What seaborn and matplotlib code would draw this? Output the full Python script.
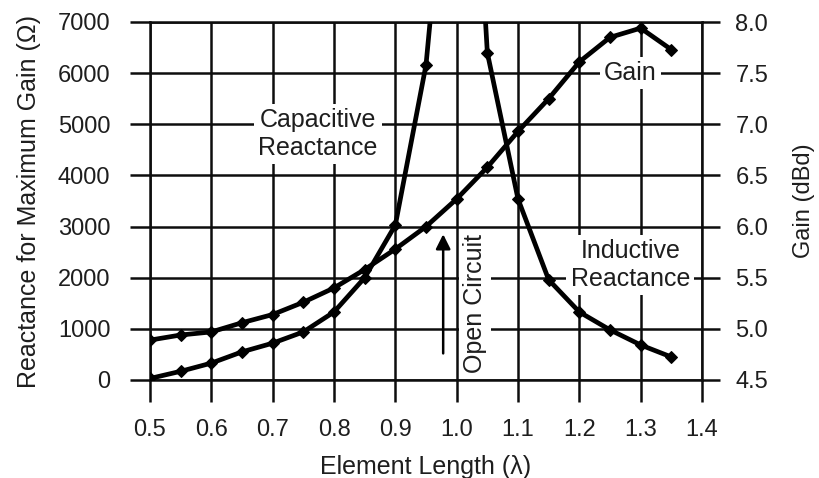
import numpy as np
import matplotlib
matplotlib.use("Agg")
import matplotlib.pyplot as plt
import seaborn as sns

# ---- data ----
gain_len = [0.50, 0.55, 0.60, 0.65, 0.70, 0.75, 0.80, 0.85, 0.90,
            0.95, 1.00, 1.05, 1.10, 1.15, 1.20, 1.25, 1.30, 1.35]
gain_dbd = [4.89, 4.94, 4.97, 5.06, 5.14, 5.26, 5.40, 5.58, 5.78,
            6.00, 6.27, 6.58, 6.93, 7.25, 7.61, 7.85, 7.94, 7.73]

cap_len = [0.50, 0.55, 0.60, 0.65, 0.70, 0.75, 0.80, 0.85, 0.90, 0.95, 0.97]
cap_ohm = [30, 170, 330, 550, 720, 940, 1330, 2000, 3030, 6160, 8700]

ind_len = [1.03, 1.05, 1.10, 1.15, 1.20, 1.25, 1.30, 1.35]
ind_ohm = [10500, 6400, 3540, 1960, 1330, 980, 685, 450]

x_ticks = [0.5, 0.6, 0.7, 0.8, 0.9, 1.0, 1.1, 1.2, 1.3, 1.4]
x_ticklabels = ["0.5", "0.6", "0.7", "0.8", "0.9", "1.0", "1.1", "1.2", "1.3", "1.4"]
y_ticks = [0, 1000, 2000, 3000, 4000, 5000, 6000, 7000]
g_ticks = [4.5, 5.0, 5.5, 6.0, 6.5, 7.0, 7.5, 8.0]
g_ticklabels = ["4.5", "5.0", "5.5", "6.0", "6.5", "7.0", "7.5", "8.0"]

sns.set_theme(style="white")
plt.rcParams["font.family"] = ["Liberation Sans", "DejaVu Sans"]

INK = "#0d0d0d"
TXT = "#1e1e1e"
FS = 17
FS_AN = 18
GLW = 1.8
fig = plt.figure(figsize=(8.19, 4.78), dpi=100)
ax = fig.add_axes([150 / 819, 98 / 478, 552 / 819, 358 / 478])

sns.lineplot(x=cap_len, y=cap_ohm, ax=ax, color="black", lw=3.4, marker="D",
             markersize=6.5, markeredgecolor="black", zorder=4)
sns.lineplot(x=ind_len, y=ind_ohm, ax=ax, color="black", lw=3.4, marker="D",
             markersize=6.5, markeredgecolor="black", zorder=4)

ax.set_xlim(0.5, 1.4)
ax.set_ylim(0, 7000)
ax.set_xticks(x_ticks)
ax.set_xticklabels(x_ticklabels)
ax.set_yticks(y_ticks)
ax.grid(True, color=INK, lw=GLW)
ax.set_axisbelow(True)
for s in ax.spines.values():
    s.set_visible(True)
    s.set_color(INK)
    s.set_linewidth(GLW)
ax.tick_params(axis="x", direction="out", length=16, width=GLW, color=INK,
               pad=12, labelsize=FS, labelcolor=TXT, bottom=True)
ax.tick_params(axis="y", direction="out", length=14.5, width=GLW, color=INK,
               pad=14, labelsize=FS, labelcolor=TXT, left=True)
ax.set_xlabel("Element Length (λ)", fontsize=FS_AN, color=TXT, labelpad=10)
ax.set_ylabel("Reactance for Maximum Gain (Ω)", fontsize=FS_AN, color=TXT,
              labelpad=12)

box = dict(facecolor="white", edgecolor="none", pad=3)
ax.text(0.774, 4810, "Capacitive\nReactance", ha="center", va="center",
        fontsize=FS_AN, color=TXT, linespacing=1.2, bbox=box, zorder=2)
ax.text(1.283, 6000, "Gain", ha="center", va="center",
        fontsize=FS_AN, color=TXT, bbox=box, zorder=2)
ax.text(1.283, 2250, "Inductive\nReactance", ha="center", va="center",
        fontsize=FS_AN, color=TXT, linespacing=1.2, bbox=box, zorder=2)
ax.text(1.030, 1500, "Open Circuit", ha="center", va="center", rotation=90,
        fontsize=FS_AN, color=TXT, bbox=box, zorder=2)
ax.annotate("", xy=(0.978, 2850), xytext=(0.978, 520),
            arrowprops=dict(arrowstyle="-|>", color="black", lw=1.8,
                            mutation_scale=22, shrinkA=0, shrinkB=0),
            zorder=3)

ax2 = ax.twinx()
sns.lineplot(x=gain_len, y=gain_dbd, ax=ax2, color="black", lw=3.4, marker="D",
             markersize=6.5, markeredgecolor="black", zorder=4)
ax2.set_ylim(4.5, 8.0)
ax2.set_yticks(g_ticks)
ax2.set_yticklabels(g_ticklabels)
ax2.grid(False)
for s in ax2.spines.values():
    s.set_visible(False)
ax2.tick_params(axis="y", direction="out", length=13, width=GLW, color=INK,
                pad=11, labelsize=FS, labelcolor=TXT, right=True)
ax2.set_ylabel("Gain (dBd)", fontsize=FS, color=TXT, labelpad=18)

fig.savefig("out.png", dpi=100)
